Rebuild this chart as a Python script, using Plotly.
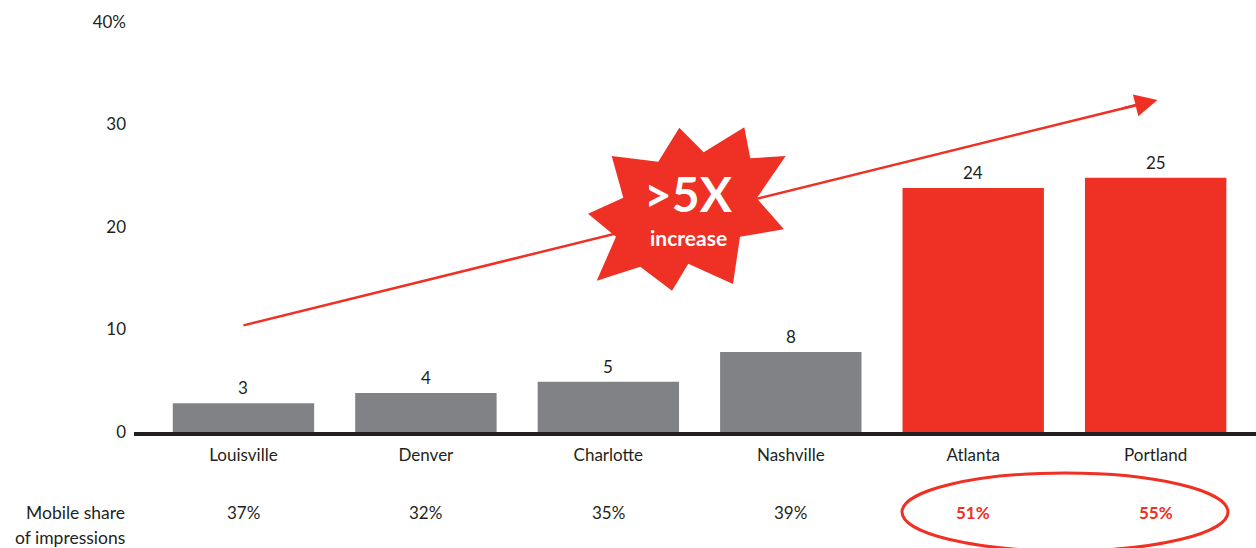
import plotly.graph_objects as go

cities = ["Louisville", "Denver", "Charlotte", "Nashville", "Atlanta", "Portland"]
values = [2.8, 3.8, 4.9, 7.8, 23.8, 24.8]
value_labels = ["3", "4", "5", "8", "24", "25"]
mobile_share = ["37%", "32%", "35%", "39%", "51%", "55%"]
highlight = [False, False, False, False, True, True]
y_ticks = [0, 10, 20, 30, 40]
y_ticktext = ["0", "10", "20", "30", "40%"]

RED = "#ee3124"
GRAY = "#808285"
DARK = "#231f20"
FONT = "Lato"

W, H = 1256, 548
ML, MR, MT, MB = 134, 0, 22, 116
PW, PH = W - ML - MR, H - MT - MB


def px2paper(x, y):
    return (x - ML) / PW, (H - MB - y) / PH


fig = go.Figure()
fig.add_trace(go.Bar(
    x=cities, y=values,
    marker=dict(color=[RED if h else GRAY for h in highlight], line=dict(width=0)),
    width=0.775, hoverinfo="skip",
))

annotations = []
for c, v, t in zip(cities, values, value_labels):
    annotations.append(dict(x=c, y=v, text=t, showarrow=False, yanchor="bottom", yshift=3,
                            font=dict(size=17, color=DARK, family=FONT)))
_, ms_y = px2paper(0, 512)
for c, s, h in zip(cities, mobile_share, highlight):
    annotations.append(dict(x=c, xref="x", y=ms_y, yref="paper", text=s, showarrow=False,
                            yanchor="middle",
                            font=dict(size=17, color=RED if h else DARK, family=FONT,
                                      weight="bold" if h else "normal")))
lx, l1 = px2paper(127, 512)
_, l2 = px2paper(127, 537)
annotations.append(dict(x=lx, y=l1, xref="paper", yref="paper", text="Mobile share", showarrow=False,
                        xanchor="right", yanchor="middle", font=dict(size=17.5, color=DARK, family=FONT)))
annotations.append(dict(x=lx, y=l2, xref="paper", yref="paper", text="of impressions", showarrow=False,
                        xanchor="right", yanchor="middle", font=dict(size=17.5, color=DARK, family=FONT)))

# trend arrow: line as shape, head as short annotation arrow
arrow_start = (0, 10.4)
arrow_end = (5.01, 32.4)
shapes = [dict(type="line", xref="x", yref="y", x0=arrow_start[0], y0=arrow_start[1],
               x1=arrow_end[0] - 0.08, y1=arrow_end[1] - 0.35, line=dict(color=RED, width=2.5),
               layer="above")]
annotations.append(dict(x=arrow_end[0], y=arrow_end[1], xref="x", yref="y",
                        ax=arrow_end[0] - 0.2, ay=arrow_end[1] - 0.88, axref="x", ayref="y",
                        showarrow=True, arrowhead=2, arrowsize=1.8, arrowwidth=2.5,
                        arrowcolor=RED, text=""))

# starburst
star_px = [(679.3, 127.7), (703.7, 152.3), (744.3, 127.3), (750.3, 158.3), (785.7, 156),
           (756.7, 198.3), (784, 229.3), (740, 236.7), (733, 284), (688.3, 263.7),
           (672, 290.7), (640.3, 266.7), (596.7, 280.7), (616, 236.7), (588, 213.7),
           (623.3, 197.7), (611.7, 156), (658.3, 161.7)]
pts = [px2paper(x, y) for x, y in star_px]
path = "M " + " L ".join(f"{x:.5f},{y:.5f}" for x, y in pts) + " Z"
shapes.append(dict(type="path", xref="paper", yref="paper", path=path,
                   fillcolor=RED, line=dict(width=0), layer="above"))
sx, sy1 = px2paper(688, 193)
_, sy2 = px2paper(688, 237)
annotations.append(dict(x=sx, y=sy1, xref="paper", yref="paper", text=">5X", showarrow=False,
                        font=dict(size=48, color="white", family=FONT, weight="bold")))
annotations.append(dict(x=sx, y=sy2, xref="paper", yref="paper", text="increase", showarrow=False,
                        font=dict(size=21, color="white", family=FONT, weight="bold")))

# highlight ellipse
ex0, ey0 = px2paper(902, 551)
ex1, ey1 = px2paper(1228, 473)
shapes.append(dict(type="circle", xref="paper", yref="paper", x0=ex0, y0=ey0, x1=ex1, y1=ey1,
                   line=dict(color=RED, width=3)))

fig.update_layout(
    width=W, height=H,
    margin=dict(l=ML, r=MR, t=MT, b=MB, pad=0),
    paper_bgcolor="white", plot_bgcolor="white",
    showlegend=False,
    font=dict(family=FONT, size=17, color=DARK),
    xaxis=dict(type="category", range=[-0.6, 5.55], showgrid=False, zeroline=False,
               showline=True, linecolor=DARK, linewidth=4, ticks="",
               ticklabelstandoff=5, tickfont=dict(size=17, color=DARK, family=FONT)),
    yaxis=dict(range=[0, 40], tickvals=y_ticks, ticktext=y_ticktext, showgrid=False,
               zeroline=False, showline=False, ticks="", ticklabelstandoff=7,
               tickfont=dict(size=17, color=DARK, family=FONT)),
    shapes=shapes, annotations=annotations,
)

fig.write_html("out.html")
